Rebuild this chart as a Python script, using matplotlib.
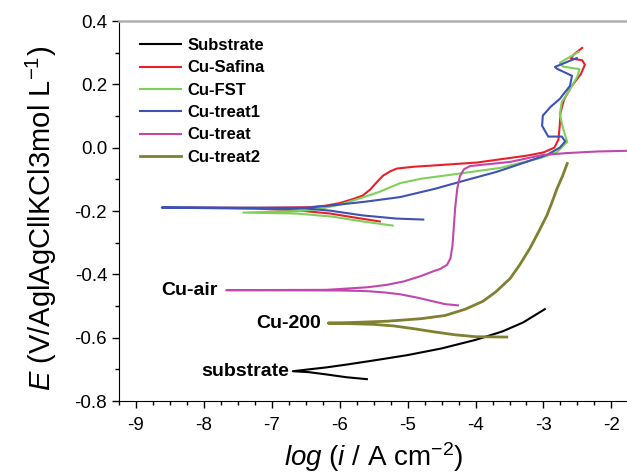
import matplotlib
matplotlib.use("Agg")
import matplotlib.pyplot as plt
from matplotlib.ticker import MultipleLocator, FormatStrFormatter

plt.rcParams['font.family'] = ['Liberation Sans', 'DejaVu Sans']
plt.rcParams['mathtext.fontset'] = 'custom'
plt.rcParams['mathtext.rm'] = 'Liberation Sans'
plt.rcParams['mathtext.it'] = 'Liberation Sans:italic'
plt.rcParams['axes.unicode_minus'] = False

# Kurvor: log(i) och E, katodisk ände -> Ecorr -> anodisk gren
sub_x = [-5.60, -5.90, -6.20, -6.45, -6.69, -6.45, -6.20, -5.90, -5.50, -5.00, -4.50, -4.00, -3.60, -3.30, -2.98]
sub_y = [-0.731, -0.725, -0.716, -0.709, -0.706, -0.700, -0.694, -0.685, -0.672, -0.655, -0.634, -0.607,
         -0.580, -0.552, -0.510]

red_x = [-5.41, -5.80, -6.14, -6.63, -7.20, -8.28, -7.20, -6.44, -6.20, -6.00, -5.80, -5.66, -5.55, -5.45,
         -5.36, -5.25, -5.16, -4.90, -4.67, -3.98, -3.24, -3.00, -2.84, -2.78, -2.76, -2.75, -2.70, -2.60,
         -2.45, -2.39, -2.43, -2.60, -2.55, -2.43]
red_y = [-0.233, -0.220, -0.208, -0.198, -0.193, -0.190, -0.190, -0.188, -0.183, -0.175, -0.162, -0.151,
         -0.132, -0.108, -0.088, -0.074, -0.066, -0.060, -0.057, -0.047, -0.025, -0.015, 0.000, 0.025, 0.070,
         0.110, 0.150, 0.190, 0.232, 0.262, 0.276, 0.282, 0.295, 0.315]

grn_x = [-5.22, -5.66, -6.10, -6.63, -7.42, -6.60, -6.30, -6.00, -5.70, -5.41, -5.11, -4.80, -4.38, -3.64,
         -3.05, -2.80, -2.65, -2.71, -2.76, -2.73, -2.62, -2.50, -2.47, -2.71, -2.76, -2.48]
grn_y = [-0.246, -0.233, -0.218, -0.208, -0.205, -0.200, -0.194, -0.180, -0.160, -0.139, -0.112, -0.098,
         -0.086, -0.064, -0.033, -0.014, 0.018, 0.060, 0.105, 0.145, 0.180, 0.225, 0.248, 0.256, 0.268, 0.303]

blu_x = [-4.77, -5.16, -5.66, -6.14, -6.50, -8.62, -6.50, -6.14, -5.60, -5.11, -4.60, -4.13, -3.70, -3.39,
         -2.95, -2.76, -2.68, -2.73, -2.93, -3.02, -3.01, -2.90, -2.76, -2.61, -2.58, -2.80, -2.83, -2.65, -2.51]
blu_y = [-0.227, -0.224, -0.214, -0.199, -0.192, -0.189, -0.190, -0.183, -0.170, -0.156, -0.130, -0.102,
         -0.077, -0.055, -0.023, 0.000, 0.020, 0.035, 0.035, 0.069, 0.101, 0.128, 0.154, 0.195, 0.227, 0.249,
         0.255, 0.271, 0.283]

air_x = [-4.26, -4.45, -4.63, -4.85, -5.11, -5.35, -5.60, -6.00, -7.67, -6.20, -5.60, -5.30, -5.05, -4.80,
         -4.63, -4.52, -4.42, -4.37, -4.34, -4.32, -4.30, -4.27, -4.23, -4.17, -4.08, -3.49, -3.01, -2.65,
         -2.20, -1.77]
air_y = [-0.498, -0.494, -0.485, -0.474, -0.463, -0.457, -0.453, -0.451, -0.450, -0.449, -0.441, -0.433,
         -0.422, -0.405, -0.391, -0.383, -0.370, -0.350, -0.310, -0.250, -0.190, -0.130, -0.090, -0.068,
         -0.058, -0.045, -0.023, -0.017, -0.012, -0.010]

c200_x = [-3.54, -4.00, -4.30, -4.60, -4.90, -5.20, -5.50, -5.80, -6.17, -5.80, -5.30, -4.80, -4.45, -4.15,
          -3.89, -3.70, -3.49, -3.35, -3.20, -3.07, -2.95, -2.87, -2.80, -2.72, -2.65]
c200_y = [-0.598, -0.597, -0.591, -0.582, -0.572, -0.563, -0.558, -0.556, -0.554, -0.552, -0.548, -0.540,
          -0.530, -0.510, -0.485, -0.455, -0.413, -0.370, -0.318, -0.265, -0.214, -0.170, -0.129, -0.090,
          -0.050]

fig = plt.figure(figsize=(6.27, 4.76), dpi=100)
ax = fig.add_axes([119 / 627, 1 - 401 / 476, 508 / 627, 380 / 476])

ax.plot(sub_x, sub_y, color='black', lw=1.5, label='Substrate')
ax.plot(red_x, red_y, color='#e8202a', lw=1.5, label='Cu-Safina')
ax.plot(grn_x, grn_y, color='#7ed05c', lw=1.5, label='Cu-FST')
ax.plot(blu_x, blu_y, color='#3d52b4', lw=1.5, label='Cu-treat1')
ax.plot(air_x, air_y, color='#c147ac', lw=1.5, label='Cu-treat')
ax.plot(c200_x, c200_y, color='#7f8030', lw=2.0, label='Cu-treat2')

# Etiketter vid kurvornas vänstra ände
ax.annotate('Cu-air', xy=(air_x[8], air_y[8]), xytext=(-6, 0), textcoords='offset points',
            ha='right', va='center', fontsize=14, fontweight='bold')
ax.annotate('Cu-200', xy=(c200_x[8], c200_y[8]), xytext=(-5, 0), textcoords='offset points',
            ha='right', va='center', fontsize=14, fontweight='bold')
ax.annotate('substrate', xy=(sub_x[4], sub_y[4]), xytext=(-3, 0), textcoords='offset points',
            ha='right', va='center', fontsize=14, fontweight='bold')

ax.set_xlim(-9.25, -1.77)
ax.set_ylim(-0.8, 0.4)
ax.xaxis.set_major_locator(MultipleLocator(1))
ax.xaxis.set_minor_locator(MultipleLocator(0.25))
ax.yaxis.set_major_locator(MultipleLocator(0.2))
ax.yaxis.set_minor_locator(MultipleLocator(0.1))
ax.yaxis.set_major_formatter(FormatStrFormatter('%.1f'))
ax.tick_params(which='major', direction='out', length=5, width=1, labelsize=13.5)
ax.tick_params(which='minor', direction='out', length=3, width=1)
ax.tick_params(axis='x', which='major', pad=6.5)

ax.spines['right'].set_visible(False)
ax.spines['top'].set_color('#b0b0b0')
ax.spines['top'].set_linewidth(1.8)

ax.set_xlabel(r'$\it{log}$ ($\it{i}$ / A cm$^{-2}$)', fontsize=20)
ax.set_ylabel(r'$\it{E}$ (V/AglAgCllKCl3mol L$^{-1}$)', fontsize=21)
ax.xaxis.set_label_coords(0.502, -0.103)
ax.yaxis.set_label_coords(-0.118, 0.48)

leg = ax.legend(loc='upper left', bbox_to_anchor=(0.041, 0.955), frameon=False, borderpad=0,
                borderaxespad=0, handlelength=2.5, handletextpad=0.36, labelspacing=0.44,
                prop={'weight': 'bold', 'size': 12})

fig.savefig('out.png', dpi=100)
